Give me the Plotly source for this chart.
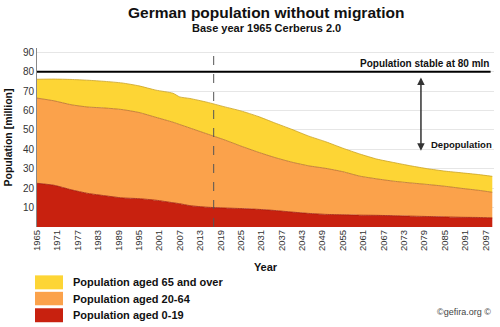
import plotly.graph_objects as go

# Projected German population without migration (million), Cerberus 2.0, base year 1965
years = [1965, 1970, 1975, 1980, 1985, 1990, 1995, 2000, 2005, 2007, 2010, 2015,
         2020, 2025, 2030, 2035, 2040, 2045, 2050, 2055, 2060, 2065, 2070, 2075,
         2080, 2085, 2090, 2095, 2099]
aged_0_19 = [22.5, 21.5, 19.2, 17.3, 16.1, 15.0, 14.6, 13.8, 12.5, 12.0, 11.0, 10.2,
             9.8, 9.5, 9.1, 8.5, 7.7, 7.0, 6.5, 6.3, 6.1, 6.0, 5.8, 5.6,
             5.4, 5.2, 5.0, 4.9, 4.7]
aged_20_64 = [43.9, 43.5, 43.8, 44.5, 45.2, 45.5, 44.4, 42.7, 41.5, 40.8, 40.0, 37.8,
              35.2, 32.2, 29.5, 27.3, 25.7, 24.5, 23.7, 22.2, 20.1, 18.8, 17.8, 17.1,
              16.5, 15.8, 14.9, 14.0, 13.2]
aged_65_plus = [9.7, 11.2, 13.0, 13.8, 13.7, 13.7, 13.7, 14.0, 14.9, 14.2, 15.2, 16.3,
                17.0, 18.1, 18.4, 17.8, 16.9, 15.3, 13.7, 12.1, 11.4, 10.2, 9.6, 8.8,
                8.1, 7.8, 8.0, 8.1, 8.2]

tick_years = list(range(1965, 2100, 6))
y_ticks = [10, 20, 30, 40, 50, 60, 70, 80, 90]
stable_level = 80
base_year_marker = 2017

series = [
    ("Population aged 0-19", aged_0_19, "#C8210F", "#9E1A0C"),
    ("Population aged 20-64", aged_20_64, "#FBA24B", "#B8702E"),
    ("Population aged 65 and over", aged_65_plus, "#FDD535", "#C9A227"),
]

FONT = "Liberation Sans, Arial, sans-serif"

fig = go.Figure()
for name, vals, fill, edge in series:
    fig.add_trace(go.Scatter(
        x=years, y=vals, name=name, mode="lines", stackgroup="pop",
        line=dict(color=edge, width=0.8, shape="spline", smoothing=0.6),
        fillcolor=fill, showlegend=False,
    ))

# stable population reference line
fig.add_shape(type="line", xref="x", yref="y", x0=years[0], x1=2098.5,
              y0=stable_level, y1=stable_level, line=dict(color="black", width=2))
# present-day marker
fig.add_shape(type="line", xref="x", yref="paper", x0=base_year_marker, x1=base_year_marker,
              y0=0, y1=0.99, line=dict(color="#555555", width=1, dash="dash"))

fig.add_annotation(x=2098.5, y=stable_level, xref="x", yref="y", text="<b>Population stable at 80 mln</b>",
                   showarrow=False, xanchor="right", yanchor="bottom", yshift=1,
                   font=dict(family=FONT, size=10, color="#111111"))
fig.add_annotation(x=2078, y=77, ax=2078, ay=38.5, xref="x", yref="y", axref="x", ayref="y",
                   text="", showarrow=True, arrowhead=2, startarrowhead=2, arrowside="end+start",
                   arrowsize=1, arrowwidth=1.5, arrowcolor="#333333")
fig.add_annotation(x=2080.3, y=42.5, xref="x", yref="y", text="<b>Depopulation</b>",
                   showarrow=False, xanchor="left", yanchor="middle",
                   font=dict(family=FONT, size=9.5, color="#111111"))

# pixel helpers for items placed around the plot area
H_TOP, H_BOT, X_L, X_R = 48, 227.5, 37, 494
def py(v):
    return (H_BOT - v) / (H_BOT - H_TOP)
def px(v):
    return (v - X_L) / (X_R - X_L)

fig.add_annotation(xref="paper", yref="paper", x=px(266), y=py(12.5),
                   text="<b>German population without migration</b>", showarrow=False,
                   xanchor="center", yanchor="middle", font=dict(family=FONT, size=15.5, color="#111111"))
fig.add_annotation(xref="paper", yref="paper", x=px(266), y=py(27.5),
                   text="<b>Base year 1965 Cerberus 2.0</b>", showarrow=False,
                   xanchor="center", yanchor="middle", font=dict(family=FONT, size=11, color="#111111"))

# legend swatches, listed top to bottom
legend_rows = [(276, 290, series[2]), (292.5, 306, series[1]), (309, 323, series[0])]
for top, bot, (name, _, fill, _) in legend_rows:
    fig.add_shape(type="rect", xref="paper", yref="paper", x0=px(35), x1=px(63),
                  y0=py(bot), y1=py(top), fillcolor=fill, line=dict(width=0))
    fig.add_annotation(xref="paper", yref="paper", x=px(71), y=py((top + bot) / 2),
                       text="<b>" + name + "</b>", showarrow=False, xanchor="left", yanchor="middle",
                       font=dict(family=FONT, size=11, color="#111111"))

fig.add_annotation(xref="paper", yref="paper", x=px(493), y=py(313), text="©gefira.org ©",
                   showarrow=False, xanchor="right", yanchor="middle",
                   font=dict(family=FONT, size=9, color="#444444"))

fig.update_layout(
    width=500, height=327,
    margin=dict(l=37, r=6, t=48, b=100),
    paper_bgcolor="white", plot_bgcolor="white",
    font=dict(family=FONT, color="#222222"),
    xaxis=dict(
        range=[1965, 2099.5], tickmode="array", tickvals=tick_years,
        ticktext=[str(t) for t in tick_years], tickangle=-90,
        tickfont=dict(family=FONT, size=9.5, color="#333333"),
        showgrid=False, zeroline=False, showline=False, ticks="",
        title=dict(text="<b>Year</b>", font=dict(family=FONT, size=11, color="#111111"), standoff=13),
    ),
    yaxis=dict(
        range=[0, 92.2], tickmode="array", tickvals=y_ticks,
        tickfont=dict(family=FONT, size=10, color="#333333"),
        showgrid=True, gridcolor="#E6E6E6", gridwidth=1, zeroline=False,
        showline=True, linecolor="#888888", linewidth=1, ticks="",
        title=dict(text="<b>Population [million]</b>", font=dict(family=FONT, size=10.5, color="#111111"), standoff=8),
    ),
)

fig.write_html("out.html")
